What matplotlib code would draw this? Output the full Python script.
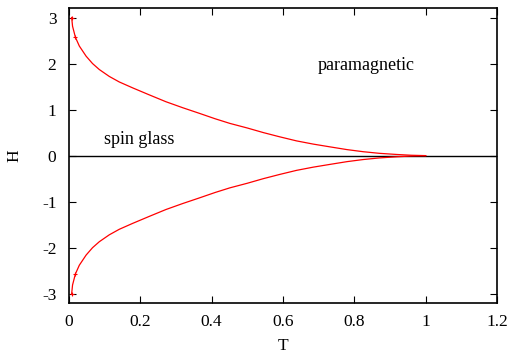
import numpy as np
import matplotlib.pyplot as plt

# AT-линия, значения
T = [0.0075, 0.010, 0.018, 0.029, 0.048, 0.066, 0.085, 0.113, 0.141, 0.179,
     0.225, 0.272, 0.319, 0.365, 0.41, 0.451, 0.50, 0.545, 0.59, 0.638,
     0.685, 0.732, 0.78, 0.825, 0.87, 0.919, 0.96, 1.0]
H = [3.0, 2.81, 2.57, 2.38, 2.16, 2.0, 1.87, 1.72, 1.60, 1.47,
     1.32, 1.17, 1.04, 0.92, 0.80, 0.70, 0.60, 0.50, 0.41, 0.32,
     0.25, 0.19, 0.13, 0.085, 0.05, 0.025, 0.008, 0.0]
H_neg = [-h for h in H]

xticks = [0, 0.2, 0.4, 0.6, 0.8, 1, 1.2]
xticklabels = ['0', '0.2', '0.4', '0.6', '0.8', '1', '1.2']
yticks = [-3, -2, -1, 0, 1, 2, 3]

plt.rcParams['font.family'] = ['Liberation Serif', 'DejaVu Serif']
plt.rcParams['font.size'] = 12.5
plt.rcParams['axes.unicode_minus'] = False

fig = plt.figure(figsize=(5.11, 3.56), dpi=100)
ax = fig.add_axes([0.135, 0.149, 0.8376, 0.8277])

ax.axhline(0, color='black', lw=1)
ax.plot(T, H, color='red', lw=0.9, marker='+', ms=3, mew=0.8, markevery=[0, 2])
ax.plot(T, H_neg, color='red', lw=0.9, marker='+', ms=3, mew=0.8, markevery=[0, 2])

ax.text(0.698, 1.96, 'paramagnetic', ha='left', va='center', fontsize=13)
ax.text(0.098, 0.35, 'spin glass', ha='left', va='center', fontsize=13)

ax.set_xlim(0, 1.2)
ax.set_ylim(-3.2, 3.2)
ax.set_xticks(xticks)
ax.set_xticklabels(xticklabels)
ax.set_yticks(yticks)
ax.tick_params(direction='in', top=True, right=True, length=5, width=0.8)
ax.tick_params(axis='x', pad=8)
ax.tick_params(axis='y', pad=9)
for s in ax.spines.values():
    s.set_linewidth(1.2)

ax.set_xlabel('T', labelpad=6)
ax.set_ylabel('H', labelpad=14)

fig.savefig('out.png', dpi=100)
